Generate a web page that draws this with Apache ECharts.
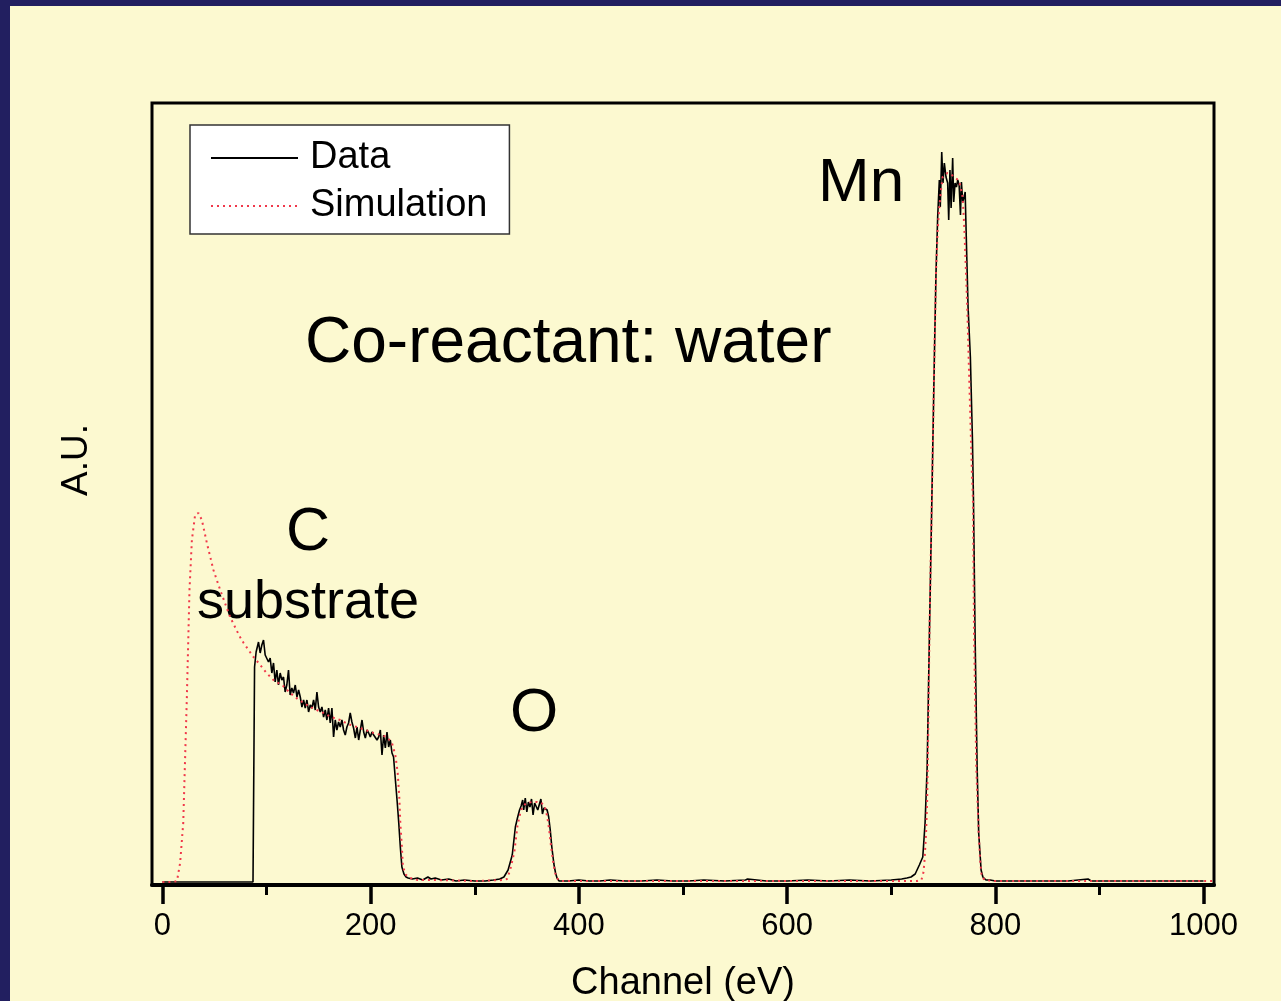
<!DOCTYPE html>
<html>
<head>
<meta charset="utf-8">
<script src="https://cdn.jsdelivr.net/npm/echarts@6/dist/echarts.min.js"></script>
<style>
  html, body { margin: 0; padding: 0; background: #FCF9D0; }
  #chart { position: absolute; left: 0; top: 0; width: 1281px; height: 1001px; }
  .band { position: absolute; background: #221F60; z-index: 5; }
</style>
</head>
<body>
<div id="chart"></div>
<div class="band" style="left:0;top:0;width:1281px;height:6px;"></div>
<div class="band" style="left:0;top:0;width:10px;height:1001px;"></div>
<script>
// tick labels of the channel axis
var majorTicks = [0, 200, 400, 600, 800, 1000];
var minorTicks = [100, 300, 500, 700, 900];

// measured spectrum  [channel, counts]
var dataSeries = [
  [0, 0], [87, 0], [88, 0], [88.5, 215], [90, 230], [92.3, 240], [93.9, 229], [95.5, 237],
  [97.1, 242], [98.7, 227], [100.3, 229], [101.9, 220], [103.5, 224], [105.1, 209], [106.7, 219],
  [108.3, 200], [109.9, 212], [111.5, 197], [113.1, 209], [114.7, 202], [116.3, 205], [117.9, 190],
  [119.5, 197], [121.1, 212], [122.7, 187], [124.3, 194], [125.9, 189], [127.6, 197], [129.2, 185],
  [130.8, 192], [132.4, 185], [134, 175], [135.6, 182], [137.2, 174], [138.8, 182], [140.4, 170],
  [142, 177], [143.6, 174], [145.2, 182], [146.8, 172], [148.4, 190], [150, 175], [151.6, 170],
  [153.2, 175], [154.8, 165], [156.4, 172], [158, 162], [159.6, 174], [161.2, 159], [162.8, 174],
  [164.4, 145], [166, 162], [167.6, 152], [169.2, 160], [170.8, 155], [172.4, 162], [174, 152],
  [175.6, 147], [177.2, 155], [178.8, 159], [180.4, 169], [182, 160], [183.6, 154], [185.3, 144],
  [186.9, 155], [188.5, 142], [190.1, 152], [191.7, 162], [193.3, 150], [194.9, 144], [196.5, 152],
  [198.1, 149], [199.7, 145], [201.3, 150], [202.9, 147], [204.5, 149], [206.1, 142], [207.7, 145],
  [209.3, 152], [210.9, 127], [212.5, 147], [214.1, 134], [215.7, 150], [217.3, 135], [218.9, 142],
  [220.5, 129], [222, 125], [224, 99], [225.5, 80], [227, 59], [228.5, 35], [230, 15], [232, 8],
  [234, 5], [236, 4], [240, 3], [245, 4], [250, 2], [255, 5], [258, 3], [262, 4], [268, 2],
  [275, 3], [282, 1], [290, 2], [300, 1], [310, 1], [318, 2], [324, 3], [328, 5], [332, 12],
  [336, 27], [339, 55], [341, 64], [343, 72], [344.5, 76], [346, 82], [347, 72], [348.5, 84],
  [350, 70], [351.5, 80], [353, 75], [354.5, 83], [356, 67], [357.5, 79], [359, 81], [360.5, 72],
  [362, 70], [363.5, 83], [365, 68], [366.5, 74], [368, 76], [369.5, 72], [371, 65], [372.5, 52],
  [374, 35], [376, 18], [377.6, 9], [379, 4], [381, 1], [390, 1], [400, 2], [410, 1], [420, 1],
  [430, 2], [445, 1], [460, 1], [475, 2], [490, 1], [505, 1], [520, 2], [540, 1], [560, 2],
  [562, 3], [580, 1], [600, 1], [620, 2], [640, 1], [660, 2], [680, 1], [700, 2], [710, 3],
  [715, 4], [719, 5], [723, 8], [727, 17], [730.3, 25], [732.5, 59], [734.5, 115], [736.7, 249],
  [739, 382], [741.5, 529], [743, 609], [744.6, 665], [746.2, 702], [747.1, 675], [748.5, 730],
  [749.7, 699], [751, 719], [752.6, 705], [754.2, 699], [755.2, 662], [756.4, 712], [757.5, 674],
  [759, 724], [760, 680], [761.3, 699], [762.6, 695], [763.9, 702], [765.2, 697], [766.5, 667],
  [767.4, 700], [768.7, 680], [770, 685], [771, 690], [771.9, 652], [773.8, 575], [776, 525],
  [778, 442], [779, 382], [780.5, 249], [782.5, 115], [784, 49], [786.3, 12], [788, 5], [791, 2],
  [795, 2], [800, 1], [820, 1], [850, 1], [870, 1], [889, 3], [892, 1], [920, 1], [950, 1],
  [980, 1], [1000, 1]
];

// simulated spectrum  [channel, counts]
var simSeries = [
  [0, 0], [10, 0], [14, 1], [17, 19], [20, 59], [23.5, 185], [26, 292], [28.3, 342], [31.4, 367],
  [34.6, 369], [37.9, 362], [42.7, 339], [49, 312], [55.5, 292], [65, 265], [74, 246], [78, 239],
  [87.5, 225], [94, 217], [100, 209], [106.7, 202], [116, 196], [122.7, 189], [130, 183],
  [138.8, 177], [146, 173], [154.8, 169], [162, 165], [170.8, 162], [178, 158], [186.9, 155],
  [195, 152], [202.9, 149], [210, 147], [215.7, 145], [220.5, 139], [223.7, 127], [226, 109],
  [227.5, 85], [228.5, 59], [230, 35], [231, 15], [234, 7], [238, 4], [245, 2], [260, 2],
  [300, 1], [328, 2], [331, 3], [334, 12], [338, 30], [341, 56], [343.5, 68], [346, 76],
  [350, 79], [355, 80], [360, 80], [364, 79], [367, 76], [369.5, 66], [371.5, 52], [373, 38],
  [375, 22], [377, 10], [378.6, 4], [382, 1], [400, 1], [500, 1], [600, 1], [700, 1], [725, 1],
  [729, 2], [731, 10], [732, 22], [733.5, 50], [734.5, 82], [735.5, 150], [736.7, 249], [739, 382],
  [741.5, 529], [743, 609], [744.6, 652], [746.2, 675], [747.8, 692], [749.4, 705], [754, 709],
  [757, 708], [760.6, 705], [763, 703], [765.4, 700], [767, 693], [768.7, 684], [770.3, 652],
  [773, 575], [775, 500], [777.5, 409], [778.5, 382], [779.5, 249], [781.7, 115], [784, 49],
  [785.5, 20], [787, 5], [790, 2], [800, 1], [900, 1], [1000, 1], [1024, 1]
];

var FONT = '"Liberation Sans", Arial, sans-serif';

var myChart = echarts.init(document.getElementById('chart'));

var option = {
  backgroundColor: '#FCF9D0',
  animation: false,
  grid: {
    left: 152, top: 103, right: 67, bottom: 116,
    outerBoundsMode: 'none',
    show: true, borderColor: '#000', borderWidth: 3, backgroundColor: 'transparent'
  },
  legend: {
    left: 190, top: 125,
    orient: 'vertical',
    padding: [11, 22, 6, 20],
    itemWidth: 87, itemHeight: 14, itemGap: 4,
    backgroundColor: '#fff', borderColor: '#333', borderWidth: 1.5,
    itemStyle: { opacity: 0 },
    textStyle: { fontFamily: FONT, fontSize: 38, color: '#000', lineHeight: 44, padding: [0, 0, 0, 7] },
    data: ['Data', 'Simulation']
  },
  xAxis: [{
    type: 'value', min: -10, max: 1010,
    name: 'Channel (eV)', nameLocation: 'middle', nameGap: 80,
    nameTextStyle: { fontFamily: FONT, fontSize: 38, color: '#000' },
    axisLine: { show: true, onZero: false, lineStyle: { color: '#000', width: 4 } },
    axisTick: { show: true, inside: false, length: 19, customValues: majorTicks, lineStyle: { color: '#000', width: 3.5 } },
    axisLabel: {
      fontFamily: FONT, fontSize: 31, color: '#000', margin: 26, customValues: majorTicks,
      formatter: function (v) { return String(v); }
    },
    splitLine: { show: false }
  }, {
    type: 'value', min: -10, max: 1010, position: 'bottom',
    axisLine: { show: false, onZero: false },
    axisTick: { show: true, length: 10, customValues: minorTicks, lineStyle: { color: '#000', width: 3 } },
    axisLabel: { show: false },
    splitLine: { show: false }
  }],
  yAxis: {
    type: 'value', min: -3, max: 779,
    name: 'A.U.', nameLocation: 'middle', nameGap: 57, nameRotate: 90,
    nameTextStyle: { fontFamily: FONT, fontSize: 37, color: '#000', padding: [0, 0, 0, 68] },
    axisLine: { show: false }, axisTick: { show: false }, axisLabel: { show: false },
    splitLine: { show: false }
  },
  graphic: [
    { type: 'text', x: 818, y: 184, style: { text: 'Mn', font: '62px ' + FONT, fill: '#000', textVerticalAlign: 'middle' } },
    { type: 'text', x: 305, y: 344, style: { text: 'Co-reactant: water', font: '64px ' + FONT, fill: '#000', textVerticalAlign: 'middle' } },
    { type: 'text', x: 286, y: 533, style: { text: 'C', font: '61px ' + FONT, fill: '#000', textVerticalAlign: 'middle' } },
    { type: 'text', x: 197, y: 603, style: { text: 'substrate', font: '54px ' + FONT, fill: '#000', textVerticalAlign: 'middle' } },
    { type: 'text', x: 510, y: 714, style: { text: 'O', font: '62px ' + FONT, fill: '#000', textVerticalAlign: 'middle' } }
  ],
  series: [{
    name: 'Data', type: 'line', data: dataSeries,
    showSymbol: false, symbol: 'none',
    lineStyle: { color: '#000', width: 1.6 },
    itemStyle: { color: '#000' },
    z: 3
  }, {
    name: 'Simulation', type: 'line', data: simSeries,
    showSymbol: false, symbol: 'none', clip: false,
    lineStyle: { color: '#F0384A', width: 2, type: [2, 4] },
    itemStyle: { color: '#F0384A' },
    z: 4
  }]
};

myChart.setOption(option);
</script>
</body>
</html>
